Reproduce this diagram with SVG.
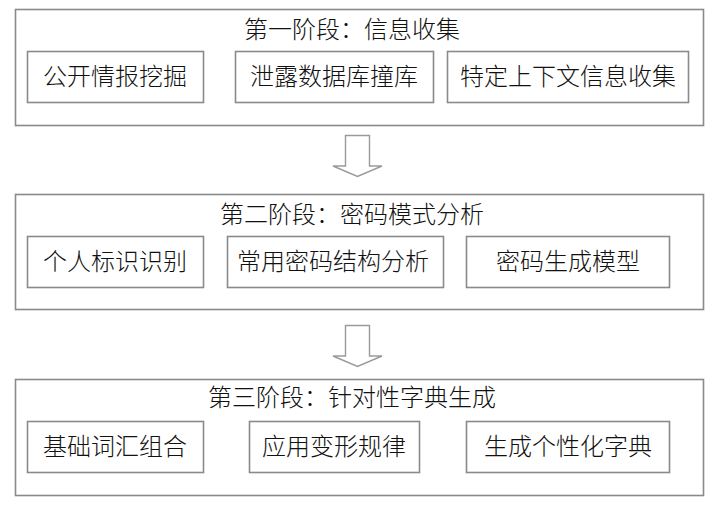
<svg xmlns="http://www.w3.org/2000/svg" width="722" height="522" viewBox="0 0 722 522">
<style>
.stage{fill:#fff;stroke:#8a8a8a;stroke-width:1.6}
.box{fill:#fff;stroke:#8a8a8a;stroke-width:1.6}
.arrow{fill:#fff;stroke:#9a9a9a;stroke-width:1.4;stroke-linejoin:miter}
text{font-family:"Liberation Serif","Noto Sans CJK SC",serif;font-size:24px;font-weight:300;fill:#111;text-anchor:middle;dominant-baseline:central}
</style>
<rect width="722" height="522" fill="#fff"/>
<g id="stage1">
<rect class="stage" x="15.5" y="9.5" width="688" height="116"/>
<text x="352" y="30">第一阶段：信息收集</text>
</g>
<g id="n1-1"><rect class="box" x="27.5" y="51.5" width="176" height="51"/><text x="115" y="77">公开情报挖掘</text></g>
<g id="n1-2"><rect class="box" x="235.5" y="51.5" width="198" height="51"/><text x="334" y="77">泄露数据库撞库</text></g>
<g id="n1-3"><rect class="box" x="447.5" y="51.5" width="241" height="51"/><text x="568" y="77">特定上下文信息收集</text></g>
<g id="stage2">
<rect class="stage" x="15.5" y="194.5" width="688" height="115"/>
<text x="352" y="215">第二阶段：密码模式分析</text>
</g>
<g id="n2-1"><rect class="box" x="27.5" y="236.5" width="176" height="51"/><text x="115" y="262">个人标识识别</text></g>
<g id="n2-2"><rect class="box" x="227.5" y="236.5" width="216" height="51"/><text x="333" y="262">常用密码结构分析</text></g>
<g id="n2-3"><rect class="box" x="466.5" y="236.5" width="203" height="51"/><text x="568" y="262">密码生成模型</text></g>
<g id="stage3">
<rect class="stage" x="15.5" y="379.5" width="688" height="116"/>
<text x="352" y="398">第三阶段：针对性字典生成</text>
</g>
<g id="n3-1"><rect class="box" x="27.5" y="421.5" width="176" height="51"/><text x="115" y="447">基础词汇组合</text></g>
<g id="n3-2"><rect class="box" x="249.5" y="421.5" width="170" height="51"/><text x="334" y="447">应用变形规律</text></g>
<g id="n3-3"><rect class="box" x="466.5" y="421.5" width="203" height="51"/><text x="568" y="447">生成个性化字典</text></g>
<g id="connectors">
<path class="arrow" d="M345.5 135.5 H369.5 V166 H382 L357.5 176.5 L333 166 H345.5 Z"/>
<path class="arrow" d="M345.5 325.5 H369.5 V356 H382 L357.5 366.5 L333 356 H345.5 Z"/>
</g>
</svg>
